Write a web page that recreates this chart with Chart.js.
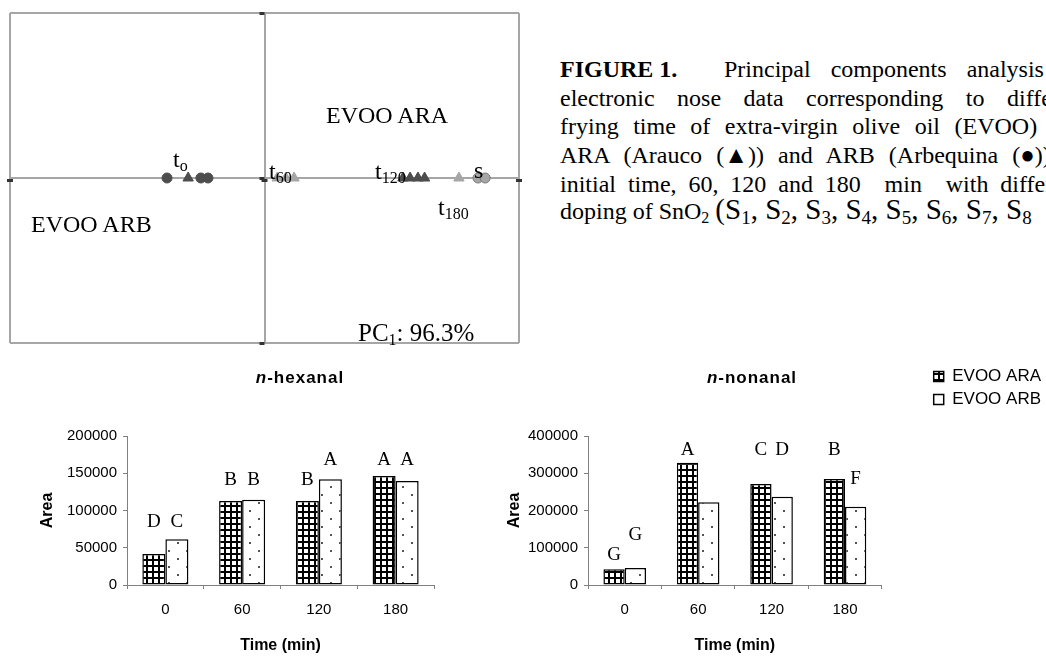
<!DOCTYPE html>
<html lang="en">
<head>
<meta charset="utf-8">
<script src="https://cdn.jsdelivr.net/npm/chart.js@4.4.1/dist/chart.umd.min.js"></script>
<style>
    html, body { margin: 0; padding: 0; background: #fff; }
    body { position: relative; width: 1046px; height: 656px; overflow: hidden; }
    canvas { position: absolute; }
    .txt { position: absolute; font-family: "Liberation Serif", "Times New Roman", serif; font-size: 24px; line-height: 24px; white-space: pre; color: #000; }
    .txt sub { font-size: 16px; line-height: 0; vertical-align: -4px; }
    .grand { font-size: 29px; line-height: 0; }
    .grand sub { font-size: 19px; vertical-align: -5px; }
    .titre { position: absolute; width: 200px; text-align: center; font-family: "Liberation Sans", Arial, sans-serif; font-weight: bold; font-size: 17px; line-height: 17px; letter-spacing: 1px; color: #000; }
</style>
</head>
<body>

<canvas id="pca" width="530" height="350" style="left:0;top:0"></canvas>
<canvas id="hexanal" width="430" height="301" style="left:20px;top:355px"></canvas>
<canvas id="nonanal" width="551" height="301" style="left:500px;top:355px"></canvas>

<!-- textes du graphique ACP -->
<div class="txt" style="left:326px;top:103px">EVOO ARA</div>
<div class="txt" style="left:31px;top:212px">EVOO ARB</div>
<div class="txt" style="left:173px;top:147px">t<sub>o</sub></div>
<div class="txt" style="left:269px;top:159px">t<sub>60</sub></div>
<div class="txt" style="left:375px;top:159px">t<sub>120</sub></div>
<div class="txt" style="left:438px;top:195px">t<sub>180</sub></div>
<div class="txt" style="left:474px;top:158px">s</div>
<div class="txt" style="left:358px;top:321px;font-size:25px">PC<sub>1</sub>: 96.3%</div>

<!-- légende de la figure -->
<div class="txt" style="left:560px;top:57px"><b>FIGURE 1.</b></div>
<div class="txt" style="left:724px;top:57px;word-spacing:14px">Principal components analysis of</div>
<div class="txt" style="left:560px;top:86px;word-spacing:16.5px">electronic nose data corresponding to different</div>
<div class="txt" style="left:560px;top:114px;word-spacing:8.5px">frying time of extra-virgin olive oil (EVOO)</div>
<div class="txt" style="left:560px;top:143px;word-spacing:8.1px">ARA (Arauco (▲)) and ARB (Arbequina (●)) at</div>
<div class="txt" style="left:560px;top:172px;word-spacing:5.9px">initial time, 60, 120 and 180  min  with different</div>
<div class="txt" style="left:560px;top:199px">doping of SnO<sub>2</sub> <span class="grand">(S<sub>1</sub>, S<sub>2</sub>, S<sub>3</sub>, S<sub>4</sub>, S<sub>5</sub>, S<sub>6</sub>, S<sub>7</sub>, S<sub>8</sub></span></div>

<!-- titres des histogrammes -->
<div class="titre" style="left:200px;top:369px"><i>n</i>-hexanal</div>
<div class="titre" style="left:652px;top:369px"><i>n</i>-nonanal</div>

<script>
// ACP : coordonnées PC1 / PC2
const pc1AraT0 = [-0.30];
const pc2AraT0 = [0];
const pc1ArbT0 = [-0.383, -0.25, -0.222];
const pc2ArbT0 = [0, 0, 0];
const pc1AraT60 = [0.05, 0.084, 0.116];
const pc2AraT60 = [0, 0, 0];
const pc1AraT120 = [0.544, 0.572, 0.603, 0.629];
const pc2AraT120 = [0, 0, 0, 0];
const pc1AraT180 = [0.764];
const pc2AraT180 = [0];
const pc1ArbT180 = [0.839, 0.867];
const pc2ArbT180 = [0, 0];

// Histogrammes : aire des pics selon le temps de friture
const temps = ["0", "60", "120", "180"];
const hexanalAra = [41600, 112700, 112700, 146300];
const hexanalArb = [61300, 114500, 141800, 139600];
const nonanalAra = [42100, 328300, 271100, 284600];
const nonanalArb = [45600, 222000, 237000, 210200];

// Lettres de significativité
const lettresHexanalAra = ["D", "B", "B", "A"];
const lettresHexanalArb = ["C", "B", "A", "A"];
const lettresNonanalAra = ["G", "A", "C", "B"];
const lettresNonanalArb = ["G", "", "D", "F"];

Chart.defaults.font.family = '"Liberation Sans", Arial, sans-serif';
Chart.defaults.color = "#000";
Chart.defaults.animation = false;

const fonce = "#4d4d4d";
const clair = "#a6a6a6";

function points(xs, ys) {
    return xs.map((x, i) => ({x: x, y: ys[i]}));
}

// Petits repères noirs sur les axes de l'ACP
const pluginReperes = {
    id: "reperes",
    afterDraw(chart) {
        const {ctx, scales: {x, y}} = chart;
        ctx.save();
        ctx.fillStyle = "#333";
        for (const v of [-1, 0, 1]) {
            ctx.fillRect(x.getPixelForValue(v) - 3, y.getPixelForValue(0) + 1, 6, 3);
            ctx.fillRect(x.getPixelForValue(0) - 5, y.getPixelForValue(v) - 1, 5, 3);
        }
        ctx.restore();
    }
};

new Chart(document.querySelector("#pca"), {
    type: "scatter",
    data: {
        datasets: [
            {label: "ARA t60", data: points(pc1AraT60, pc2AraT60), pointStyle: "triangle", pointRadius: 6, backgroundColor: clair, borderColor: clair},
            {label: "ARA t180", data: points(pc1AraT180, pc2AraT180), pointStyle: "triangle", pointRadius: 6, backgroundColor: clair, borderColor: clair},
            {label: "ARB t180", data: points(pc1ArbT180, pc2ArbT180), pointStyle: "circle", pointRadius: 5, backgroundColor: clair, borderColor: "#777"},
            {label: "ARA t120", data: points(pc1AraT120, pc2AraT120), pointStyle: "triangle", pointRadius: 6, backgroundColor: fonce, borderColor: fonce},
            {label: "ARB t0", data: points(pc1ArbT0, pc2ArbT0), pointStyle: "circle", pointRadius: 5, backgroundColor: fonce, borderColor: fonce},
            {label: "ARA t0", data: points(pc1AraT0, pc2AraT0), pointStyle: "triangle", pointRadius: 6, backgroundColor: fonce, borderColor: fonce},
        ],
    },
    options: {
        responsive: false,
        layout: {padding: {left: 10, top: 13, right: 11, bottom: 4}},
        plugins: {legend: {display: false}, tooltip: {enabled: false}},
        scales: {
            x: {
                type: "linear", min: -1, max: 1,
                ticks: {display: false, stepSize: 1},
                grid: {color: "#a6a6a6", lineWidth: 2, drawTicks: false},
                border: {display: false},
                afterFit: s => { s.height = 0 },
            },
            y: {
                type: "linear", min: -1, max: 1,
                ticks: {display: false, stepSize: 1},
                grid: {color: "#a6a6a6", lineWidth: 2, drawTicks: false},
                border: {display: false},
                afterFit: s => { s.width = 0 },
            },
        },
    },
    plugins: [pluginReperes],
});

// Motifs de remplissage des barres
const ctxMotif = document.createElement("canvas").getContext("2d");

function motifGrille() {
    const c = document.createElement("canvas");
    c.width = 6; c.height = 6;
    const g = c.getContext("2d");
    g.fillStyle = "#fff"; g.fillRect(0, 0, 6, 6);
    g.fillStyle = "#000"; g.fillRect(0, 0, 6, 2); g.fillRect(0, 0, 2, 6);
    return ctxMotif.createPattern(c, "repeat");
}

function motifPoints() {
    const c = document.createElement("canvas");
    c.width = 18; c.height = 16;
    const g = c.getContext("2d");
    g.fillStyle = "#fff"; g.fillRect(0, 0, 18, 16);
    g.fillStyle = "#555"; g.fillRect(4, 3, 2, 2); g.fillRect(13, 11, 2, 2);
    return ctxMotif.createPattern(c, "repeat");
}

const grille = motifGrille();
const pointille = motifPoints();

// Lettres au-dessus des barres
const pluginLettres = {
    id: "lettres",
    afterDatasetsDraw(chart, args, opts) {
        const ctx = chart.ctx;
        ctx.save();
        ctx.font = '19px "Liberation Serif", "Times New Roman", serif';
        ctx.fillStyle = "#000";
        ctx.textAlign = "center";
        ctx.textBaseline = "middle";
        opts.textes.forEach((serie, d) => {
            const meta = chart.getDatasetMeta(d);
            serie.forEach((lettre, i) => {
                if (!lettre) return;
                ctx.fillText(lettre, meta.data[i].x, chart.scales.y.getPixelForValue(opts.niveaux[d][i]));
            });
        });
        ctx.restore();
    }
};

function axeX() {
    return {
        grid: {drawOnChartArea: false, drawTicks: true, tickLength: 4, color: "#808080"},
        border: {color: "#808080"},
        ticks: {padding: 12, font: {size: 15}},
        title: {display: true, text: "Time (min)", font: {size: 16, weight: "bold"}, padding: {top: 0, bottom: 1}},
        afterFit: s => { s.height = 71 },
    };
}

function axeY(max, pas, largeur) {
    return {
        min: 0, max: max,
        grid: {drawOnChartArea: false, drawTicks: true, tickLength: 4, color: "#808080"},
        border: {color: "#808080"},
        ticks: {stepSize: pas, padding: 6, font: {size: 15}, callback: v => v},
        title: {display: true, text: "Area", font: {size: 16, weight: "bold"}, padding: 0},
        afterFit: s => { s.width = largeur },
    };
}

function series(ara, arb, pourcent) {
    return [
        {label: "EVOO ARA", data: ara, backgroundColor: grille, borderColor: "#000", borderWidth: 1.5, borderSkipped: false, categoryPercentage: pourcent, barPercentage: 1},
        {label: "EVOO ARB", data: arb, backgroundColor: pointille, borderColor: "#000", borderWidth: 1.5, borderSkipped: false, categoryPercentage: pourcent, barPercentage: 1},
    ];
}

new Chart(document.querySelector("#hexanal"), {
    type: "bar",
    data: {labels: temps, datasets: series(hexanalAra, hexanalArb, 0.6)},
    options: {
        responsive: false,
        layout: {padding: {left: 18, top: 81, right: 16, bottom: 0}},
        plugins: {
            legend: {display: false},
            tooltip: {enabled: false},
            lettres: {
                textes: [lettresHexanalAra, lettresHexanalArb],
                niveaux: [[85000, 141000, 141000, 168000], [85000, 141000, 168000, 168000]],
            },
        },
        scales: {x: axeX(), y: axeY(200000, 50000, 89)},
    },
    plugins: [pluginLettres],
});

new Chart(document.querySelector("#nonanal"), {
    type: "bar",
    data: {labels: temps, datasets: series(nonanalAra, nonanalArb, 0.58)},
    options: {
        responsive: false,
        layout: {padding: {left: 5, top: 7, right: 0, bottom: 0}},
        plugins: {
            // titre vide : sert seulement à réserver la place du titre HTML
            title: {display: true, text: "", font: {size: 10, lineHeight: 1}, padding: {top: 64, bottom: 0}},
            legend: {
                position: "right",
                align: "start",
                maxWidth: 200,
                labels: {boxWidth: 10, boxHeight: 10, padding: 6, font: {size: 17}},
            },
            tooltip: {enabled: false},
            lettres: {
                textes: [lettresNonanalAra, lettresNonanalArb],
                niveaux: [[80000, 362000, 362000, 362000], [133000, 0, 362000, 284000]],
            },
        },
        scales: {
            x: axeX(),
            y: axeY(400000, 100000, 83),
            // axe invisible qui écarte la légende de la zone de tracé
            droite: {
                type: "linear", position: "right", display: true,
                grid: {display: false}, border: {display: false}, ticks: {display: false},
                afterFit: s => { s.width = 46 },
            },
        },
    },
    plugins: [pluginLettres],
});
</script>
</body>
</html>
